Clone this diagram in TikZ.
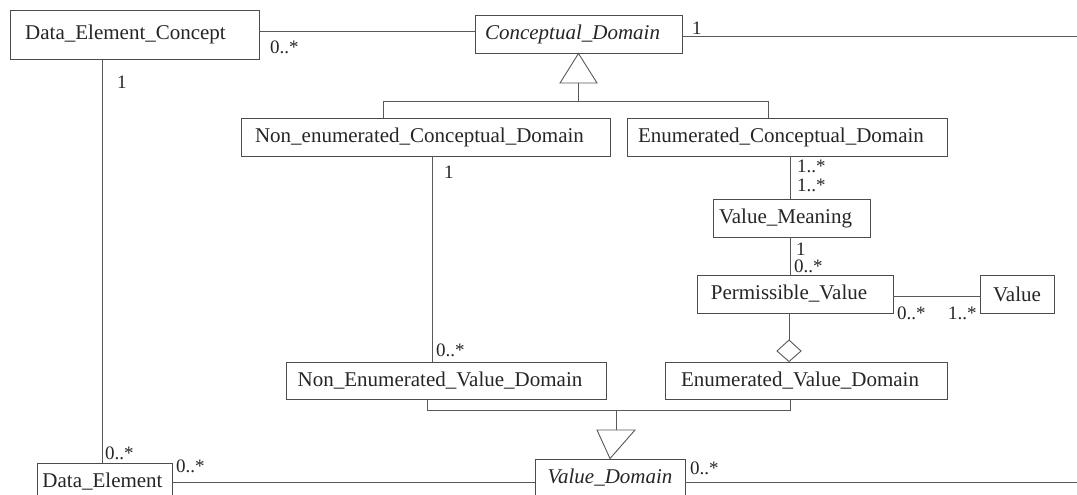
\documentclass[tikz,border=0pt]{standalone}
\usepackage{fontspec}
\setmainfont{Liberation Serif}
\newcommand{\rpad}{\hspace*{12pt}}
\begin{document}
\begin{tikzpicture}[x=1pt,y=-1pt,
  cls/.style={draw=black!70, line width=0.9pt, fill=white, inner sep=0pt, minimum height=38pt,
    font=\fontsize{21}{23}\selectfont, text=black!85},
  ln/.style={draw=black!65, line width=0.9pt},
  lbl/.style={font=\fontsize{19}{21}\selectfont, text=black!85, inner sep=0pt},
  gen/.style={draw=black!65, line width=0.9pt, fill=white}]
\useasboundingbox (0,0) rectangle (1077,495);
% classes
\node[cls, minimum width=249pt, minimum height=49pt] (DEC) at (134.5,34.5) {Data\_Element\_Concept\hspace*{18pt}};
\node[cls, minimum width=207pt] (CD) at (578.5,34) {\itshape Conceptual\_Domain\rpad};
\node[cls, minimum width=369pt] (NECD) at (425.5,137) {Non\_enumerated\_Conceptual\_Domain\rpad};
\node[cls, minimum width=320pt] (ECD) at (787,137) {Enumerated\_Conceptual\_Domain\rpad};
\node[cls, minimum width=157pt] (VM) at (791.5,218) {Value\_Meaning\rpad};
\node[cls, minimum width=196pt] (PV) at (795,294) {Permissible\_Value\rpad};
\node[cls, minimum width=74pt] (VAL) at (1017,294) {Value};
\node[cls, minimum width=320pt, minimum height=37pt] (NEVD) at (446,380.5) {Non\_Enumerated\_Value\_Domain\rpad};
\node[cls, minimum width=282pt, minimum height=37pt] (EVD) at (806,380.5) {Enumerated\_Value\_Domain\rpad};
\node[cls, minimum width=150pt] (VD) at (610,478) {\itshape Value\_Domain};
\node[cls, minimum width=135pt] (DE) at (104.5,482) {Data\_Element\hspace*{4pt}};
% free ends
\coordinate (CDend) at (1077,36);
\coordinate (VDend) at (1077,482);
% associations
\draw[ln] (DEC.east |- 0,31) -- (CD.west |- 0,31);
\draw[ln] (CD.east |- CDend) -- (CDend);
\draw[ln] (DEC.south -| 102,0) -- (DE.north -| 102,0);
\draw[ln] (DE.east |- 0,482) -- (VD.west |- 0,482);
\draw[ln] (VD.east |- VDend) -- (VDend);
\draw[ln] (NECD.south -| 432,0) -- (NEVD.north -| 432,0);
\draw[ln] (ECD.south -| 790,0) -- (VM.north -| 790,0);
\draw[ln] (VM.south -| 790,0) -- (PV.north -| 790,0);
\draw[ln] (PV.east |- 0,296) -- (VAL.west |- 0,296);
% aggregation
\coordinate (dtop) at (789,340);
\draw[ln] (PV.south -| dtop) -- (dtop);
\draw[gen] (dtop) -- (801,351) -- (EVD.north -| dtop) -- (777,351) -- cycle;
% generalization top
\coordinate (t1) at (578,83);
\draw[ln] (NECD.north -| 383,0) -- (383,101) -- (768,101) -- (ECD.north -| 768,0);
\draw[ln] (t1) -- (578,101);
\draw[gen] (CD.south) -- (597,83) -- (560,83) -- cycle;
% generalization bottom
\coordinate (t2) at (616,430);
\draw[ln] (NEVD.south -| 427,0) -- (427,410) -- (790,410) -- (EVD.south -| 790,0);
\draw[ln] (616,410) -- (t2);
\draw[gen] (597,430) -- (635,430) -- (VD.north) -- cycle;
% multiplicities
\node[lbl, anchor=west] (m1) at (270,47) {0..*};
\node[lbl, anchor=west] (m2) at (117,82) {1};
\node[lbl, anchor=west] (m3) at (692,28) {1};
\node[lbl, anchor=west] (m4) at (444,172) {1};
\node[lbl, anchor=west] (m5) at (436,350) {0..*};
\node[lbl, anchor=west] (m6) at (797,166) {1..*};
\node[lbl, anchor=west] (m7) at (797,185) {1..*};
\node[lbl, anchor=west] (m8) at (796,249) {1};
\node[lbl, anchor=west] (m9) at (794,266) {0..*};
\node[lbl, anchor=west] (m10) at (897,313) {0..*};
\node[lbl, anchor=west] (m11) at (948,313) {1..*};
\node[lbl, anchor=west] (m12) at (105,453) {0..*};
\node[lbl, anchor=west] (m13) at (176,466) {0..*};
\node[lbl, anchor=west] (m14) at (690,468) {0..*};
\end{tikzpicture}
\end{document}
